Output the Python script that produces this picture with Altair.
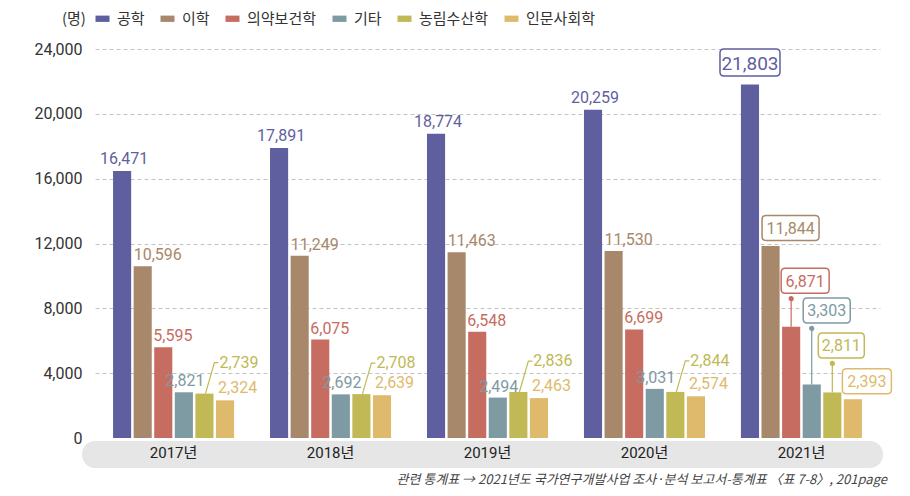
import altair as alt
import pandas as pd

years = ["2017년", "2018년", "2019년", "2020년", "2021년"]
series = ["공학", "이학", "의약보건학", "기타", "농림수산학", "인문사회학"]
colors = ["#5f5f9f", "#a8886a", "#c76c61", "#7e9aa3", "#c0b955", "#e0ba6c"]

v_eng = [16471, 17891, 18774, 20259, 21803]
v_sci = [10596, 11249, 11463, 11530, 11844]
v_med = [5595, 6075, 6548, 6699, 6871]
v_etc = [2821, 2692, 2494, 3031, 3303]
v_agr = [2739, 2708, 2836, 2844, 2811]
v_hum = [2324, 2639, 2463, 2574, 2393]
y_ticks = [0, 4000, 8000, 12000, 16000, 20000, 24000]
source_note = "관련 통계표 → 2021년도 국가연구개발사업 조사·분석 보고서-통계표 〈표 7-8〉, 201page"

all_vals = [v_eng, v_sci, v_med, v_etc, v_agr, v_hum]
rows = []
for s, vals in zip(series, all_vals):
    for yr, v in zip(years, vals):
        rows.append({"year": yr, "series": s, "value": v})
df = pd.DataFrame(rows)

W, H = 785, 389
NUM_FONT = "Roboto, Noto Sans CJK KR"
KR_FONT = "Noto Sans CJK KR"

x_scale = alt.Scale(paddingInner=0.229, paddingOuter=0.115)
xo_scale = alt.Scale(paddingInner=0.12, paddingOuter=0)
y_scale = alt.Scale(domain=[0, 24000], nice=False)

x_axis = alt.Axis(title=None, labelAngle=0, ticks=False, domain=False,
                  labelFontSize=15, labelColor="#222", labelFont=NUM_FONT,
                  labelPadding=7, zindex=2)
y_axis = alt.Axis(title=None, values=y_ticks, format=",d", domain=False,
                  ticks=False, labelPadding=13, labelFontSize=16,
                  labelFont=NUM_FONT, labelColor="#333",
                  gridDash=[4, 3], gridColor="#c4c4c4",
                  gridOpacity=alt.condition("datum.value === 0", alt.value(0), alt.value(1)))

def xenc():
    return alt.X("year:N", sort=years, scale=x_scale, axis=x_axis)

def yenc():
    return alt.Y("value:Q", scale=y_scale, axis=y_axis)

xo = alt.XOffset("series:N", sort=series, scale=xo_scale)

base = alt.Chart(df)

band = alt.Chart(pd.DataFrame({"a": [0]})).mark_rect(
    cornerRadius=13, color="#e6e6e6"
).encode(x=alt.value(-13), x2=alt.value(788), y=alt.value(392), y2=alt.value(419))

bars = base.mark_bar().encode(
    x=xenc(),
    xOffset=xo,
    y=yenc(),
    color=alt.Color("series:N", sort=series,
                    scale=alt.Scale(domain=series, range=colors),
                    legend=alt.Legend(
                        title="(명)", titleOrient="left", titleFontSize=15,
                        titleFont=KR_FONT, titleFontWeight="normal", titleColor="#333",
                        titlePadding=9, labelFontSize=15, labelFont=KR_FONT,
                        labelColor="#333", orient="none", legendX=-33, legendY=-38,
                        direction="horizontal",
                        symbolType="M-1,-0.45L1,-0.45L1,0.45L-1,0.45Z",
                        symbolSize=196, symbolStrokeWidth=0, symbolOpacity=1,
                        columnPadding=15, labelOffset=7)),
)

# label styles for 2017-2020: (align, dx, dy, baseline)
label_style = {
    "공학": ("center", 2, -4, "bottom"),
    "이학": ("left", -9, -3, "bottom"),
    "의약보건학": ("left", -10, -3, "bottom"),
    "기타": ("center", 1, -3, "bottom"),
    "농림수산학": ("left", 15, -31, "middle"),
    "인문사회학": ("left", -7, -4, "bottom"),
}
# 2021 boxed labels: (box center dx, dy, width, fontsize, dot offset or None)
box_style = {
    "공학": (0, -22, 60, 19, None),
    "이학": (20, -18, 57, 16, None),
    "의약보건학": (14, -46, 48, 16, -28),
    "기타": (15, -74, 47, 16, -56),
    "농림수산학": (9, -47, 46, 16, -29),
    "인문사회학": (14, -18, 49, 16, None),
}

def box_path(cx, cy, w, h, r):
    x0, x1, y0, y1 = cx - w / 2, cx + w / 2, cy - h / 2, cy + h / 2
    return (f"M{x0 + r},{y0}L{x1 - r},{y0}Q{x1},{y0} {x1},{y0 + r}"
            f"L{x1},{y1 - r}Q{x1},{y1} {x1 - r},{y1}L{x0 + r},{y1}"
            f"Q{x0},{y1} {x0},{y1 - r}L{x0},{y0 + r}Q{x0},{y0} {x0 + r},{y0}Z")

layers = [band, bars]
for s, c in zip(series, colors):
    al, dx, dy, bl = label_style[s]
    sel = base.transform_filter(
        (alt.datum.series == s) & (alt.datum.year != years[-1]))
    if s == "농림수산학":
        layers.append(sel.mark_point(
            shape="M1,0L10,-31L14,-31", size=4, filled=False, stroke=c,
            strokeWidth=1.2, opacity=1).encode(x=xenc(), xOffset=xo, y=yenc()))
    layers.append(sel.mark_text(
        align=al, baseline=bl, dx=dx, dy=dy, fontSize=16, font=NUM_FONT, color=c
    ).encode(x=xenc(), xOffset=xo, y=yenc(),
             text=alt.Text("value:Q", format=",d")))

    bdx, bdy, bw, fs, dot = box_style[s]
    sel21 = base.transform_filter(
        (alt.datum.series == s) & (alt.datum.year == years[-1]))
    if dot is not None:
        lead = (f"M0,0L0,{dot}M-2,{dot}A2,2 0 1,1 2,{dot}A2,2 0 1,1 -2,{dot}Z")
        layers.append(sel21.mark_point(
            shape=lead, size=4, filled=True, fill=c, stroke=c, strokeWidth=1.2,
            opacity=1).encode(x=xenc(), xOffset=xo, y=yenc()))
    bh = 27 if s == "공학" else 25
    layers.append(sel21.mark_point(
        shape=box_path(bdx, bdy, bw, bh, 4), size=4, filled=True, fill="white",
        stroke=c, strokeWidth=1.5, opacity=1).encode(x=xenc(), xOffset=xo, y=yenc()))
    layers.append(sel21.mark_text(
        align="center", baseline="middle", dx=bdx, dy=bdy + 1, fontSize=fs,
        font=NUM_FONT, color=c).encode(
        x=xenc(), xOffset=xo, y=yenc(),
        text=alt.Text("value:Q", format=",d")))

note = alt.Chart(pd.DataFrame({"a": [0]})).mark_text(
    align="right", baseline="middle", fontStyle="italic", fontSize=13,
    color="#444", font=KR_FONT
).encode(x=alt.value(792), y=alt.value(431), text=alt.value(source_note))
layers.append(note)

chart = alt.layer(*layers).properties(
    width=W, height=H,
    autosize=alt.AutoSizeParams(type="none"),
    padding={"left": 87, "top": 41, "right": 22, "bottom": 50},
).configure_view(stroke=None)

chart.save("out.html", embed_options={"renderer": "svg", "actions": False})
